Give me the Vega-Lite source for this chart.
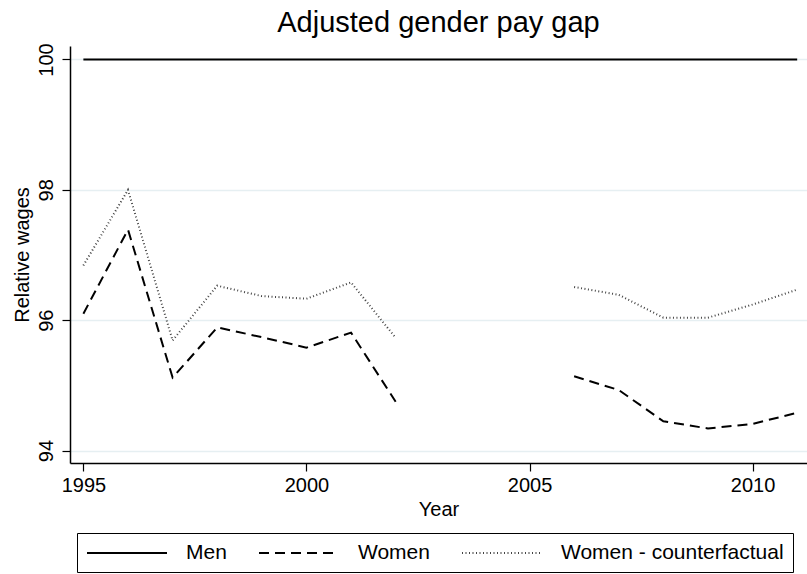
{
  "$schema": "https://vega.github.io/schema/vega-lite/v6.json",
  "autosize": {"type": "none"},
  "width": 737,
  "height": 417,
  "padding": {"left": 70, "top": 46, "right": 0, "bottom": 111},
  "background": "white",
  "title": {
    "text": "Adjusted gender pay gap",
    "font": "Liberation Sans",
    "fontSize": 29,
    "fontWeight": "normal",
    "color": "black",
    "anchor": "middle",
    "offset": 5
  },
  "config": {
    "view": {"stroke": null},
    "font": "Liberation Sans",
    "legend": {
      "orient": "none",
      "legendX": 7,
      "legendY": 487,
      "direction": "horizontal",
      "strokeColor": "black",
      "padding": 9,
      "symbolType": "M-1,0H7",
      "symbolSize": 400,
      "labelFontSize": 21,
      "labelFont": "Liberation Sans",
      "labelColor": "black",
      "labelOffset": 78,
      "labelLimit": 400,
      "columnPadding": 28
    }
  },
  "data": {
    "values": [
      {"year": 1995, "series": "Men", "value": 100},
      {"year": 1996, "series": "Men", "value": 100},
      {"year": 1997, "series": "Men", "value": 100},
      {"year": 1998, "series": "Men", "value": 100},
      {"year": 1999, "series": "Men", "value": 100},
      {"year": 2000, "series": "Men", "value": 100},
      {"year": 2001, "series": "Men", "value": 100},
      {"year": 2002, "series": "Men", "value": 100},
      {"year": 2003, "series": "Men", "value": 100},
      {"year": 2004, "series": "Men", "value": 100},
      {"year": 2005, "series": "Men", "value": 100},
      {"year": 2006, "series": "Men", "value": 100},
      {"year": 2007, "series": "Men", "value": 100},
      {"year": 2008, "series": "Men", "value": 100},
      {"year": 2009, "series": "Men", "value": 100},
      {"year": 2010, "series": "Men", "value": 100},
      {"year": 2011, "series": "Men", "value": 100},
      {"year": 1995, "series": "Women", "value": 96.10},
      {"year": 1996, "series": "Women", "value": 97.39},
      {"year": 1997, "series": "Women", "value": 95.12},
      {"year": 1998, "series": "Women", "value": 95.89},
      {"year": 1999, "series": "Women", "value": 95.74},
      {"year": 2000, "series": "Women", "value": 95.58},
      {"year": 2001, "series": "Women", "value": 95.81},
      {"year": 2002, "series": "Women", "value": 94.75},
      {"year": 2003, "series": "Women", "value": null},
      {"year": 2004, "series": "Women", "value": null},
      {"year": 2005, "series": "Women", "value": null},
      {"year": 2006, "series": "Women", "value": 95.14},
      {"year": 2007, "series": "Women", "value": 94.93},
      {"year": 2008, "series": "Women", "value": 94.45},
      {"year": 2009, "series": "Women", "value": 94.34},
      {"year": 2010, "series": "Women", "value": 94.41},
      {"year": 2011, "series": "Women", "value": 94.58},
      {"year": 1995, "series": "Women - counterfactual", "value": 96.84},
      {"year": 1996, "series": "Women - counterfactual", "value": 98.00},
      {"year": 1997, "series": "Women - counterfactual", "value": 95.69},
      {"year": 1998, "series": "Women - counterfactual", "value": 96.53},
      {"year": 1999, "series": "Women - counterfactual", "value": 96.37},
      {"year": 2000, "series": "Women - counterfactual", "value": 96.33},
      {"year": 2001, "series": "Women - counterfactual", "value": 96.58},
      {"year": 2002, "series": "Women - counterfactual", "value": 95.73},
      {"year": 2003, "series": "Women - counterfactual", "value": null},
      {"year": 2004, "series": "Women - counterfactual", "value": null},
      {"year": 2005, "series": "Women - counterfactual", "value": null},
      {"year": 2006, "series": "Women - counterfactual", "value": 96.51},
      {"year": 2007, "series": "Women - counterfactual", "value": 96.39},
      {"year": 2008, "series": "Women - counterfactual", "value": 96.04},
      {"year": 2009, "series": "Women - counterfactual", "value": 96.04},
      {"year": 2010, "series": "Women - counterfactual", "value": 96.24},
      {"year": 2011, "series": "Women - counterfactual", "value": 96.47}
    ]
  },
  "mark": {"type": "line", "invalid": "break-paths-show-domains"},
  "encoding": {
    "x": {
      "field": "year",
      "type": "quantitative",
      "scale": {"domain": [1994.7, 2011.22], "nice": false, "zero": false},
      "axis": {
        "values": [1995, 2000, 2005, 2010],
        "format": "d",
        "title": "Year",
        "grid": false,
        "domainColor": "black",
        "domainWidth": 1.5,
        "tickColor": "black",
        "tickWidth": 1.2,
        "tickSize": 8,
        "labelFontSize": 20,
        "labelColor": "black",
        "labelPadding": 4,
        "labelFont": "Liberation Sans",
        "titleFont": "Liberation Sans",
        "titleFontSize": 20,
        "titleFontWeight": "normal",
        "titleColor": "black",
        "titlePadding": 4
      }
    },
    "y": {
      "field": "value",
      "type": "quantitative",
      "scale": {"domain": [93.81, 100.207], "nice": false, "zero": false},
      "axis": {
        "values": [94, 96, 98, 100],
        "title": "Relative wages",
        "grid": true,
        "gridColor": "#e6eff2",
        "gridWidth": 1.5,
        "domainColor": "black",
        "domainWidth": 1.5,
        "tickColor": "black",
        "tickWidth": 1.2,
        "tickSize": 8,
        "labelAngle": 270,
        "labelAlign": "center",
        "labelBaseline": "bottom",
        "labelFontSize": 20,
        "labelColor": "black",
        "labelPadding": 6,
        "labelFont": "Liberation Sans",
        "titleFont": "Liberation Sans",
        "titleFontSize": 20,
        "titleFontWeight": "normal",
        "titleColor": "black",
        "titlePadding": 4
      }
    },
    "color": {
      "field": "series",
      "type": "nominal",
      "scale": {
        "domain": ["Men", "Women", "Women - counterfactual"],
        "range": ["black", "black", "#444444"]
      },
      "legend": {"title": null}
    },
    "strokeDash": {
      "field": "series",
      "type": "nominal",
      "scale": {
        "domain": ["Men", "Women", "Women - counterfactual"],
        "range": [[1, 0], [10, 6], [1, 2.5]]
      },
      "legend": {"title": null}
    },
    "strokeWidth": {
      "field": "series",
      "type": "nominal",
      "scale": {
        "domain": ["Men", "Women", "Women - counterfactual"],
        "range": [2, 2, 1.1]
      },
      "legend": {"title": null}
    }
  }
}
